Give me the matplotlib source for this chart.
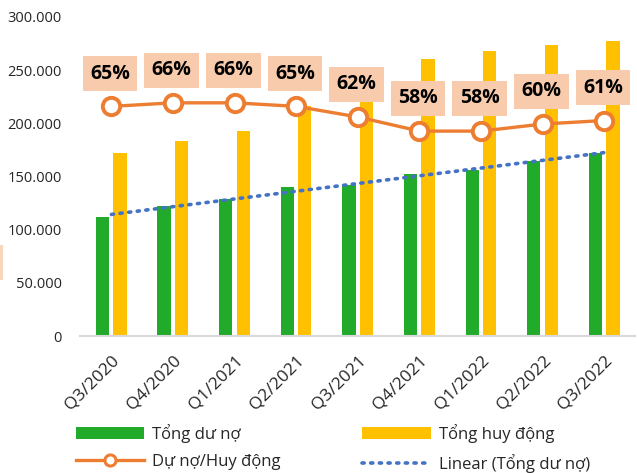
import numpy as np
import matplotlib.pyplot as plt
from matplotlib.patches import Rectangle
from matplotlib.lines import Line2D

plt.rcParams['font.family'] = ['Open Sans', 'DejaVu Sans']

# Data
quarters = ['Q3/2020', 'Q4/2020', 'Q1/2021', 'Q2/2021', 'Q3/2021',
            'Q4/2021', 'Q1/2022', 'Q2/2022', 'Q3/2022']
tong_du_no = [111900, 122300, 128500, 140400, 142000, 152300, 156500, 164700, 172100]
tong_huy_dong = [172100, 183400, 193000, 216300, 229000, 260500, 268300, 273600, 277400]
ty_le = [65, 66, 66, 65, 62, 58, 58, 60, 61]

GREEN = '#22AA2B'
YELLOW = '#FFC000'
ORANGE = '#ED7D31'
BLUE = '#4472C4'
PEACH = '#F8CBAD'

fig = plt.figure(figsize=(6.37, 4.73), dpi=100)
ax = fig.add_axes([0.1256, 0.2896, 0.8714, 0.6745])

x = np.arange(len(quarters))
w = 0.215
bars_g = ax.bar(x - 0.145, tong_du_no, w, color=GREEN, label='Tổng dư nợ')
bars_y = ax.bar(x + 0.14, tong_huy_dong, w, color=YELLOW, label='Tổng huy động')

# linear trendline of Tổng dư nợ
k, b = np.polyfit(x, tong_du_no, 1)
trend, = ax.plot(x, k * x + b, color=BLUE, linestyle=(0, (0.6, 1.8)), linewidth=2.6,
                 dash_capstyle='round', label='Linear (Tổng dư nợ)')

ax.set_xlim(-0.51, 8.5)
ax.set_ylim(0, 300000)
ax.set_yticks(np.arange(0, 300001, 50000))
ax.set_yticklabels(['0' if v == 0 else f'{v:,}'.replace(',', '.') for v in range(0, 300001, 50000)],
                   fontsize=10.5, color='#262626')
ax.set_xticks(x)
ax.set_xticklabels(quarters, rotation=45, ha='right', rotation_mode='anchor',
                   fontsize=12.5, color='#262626')
ax.tick_params(axis='x', length=0, pad=12)
ax.tick_params(axis='y', length=0, pad=13)
for s in ['top', 'right', 'left']:
    ax.spines[s].set_visible(False)
ax.spines['bottom'].set_color('#D9D9D9')
ax.spines['bottom'].set_linewidth(1.5)

# ratio on hidden secondary axis
ax2 = ax.twinx()
ax2.set_ylim(0, 90.3)
ax2.axis('off')
ax2.plot(x, ty_le, color=ORANGE, linewidth=2.4, marker='o', markersize=12.5,
         markerfacecolor='white', markeredgecolor=ORANGE, markeredgewidth=2.8, zorder=3)
for xi, r in zip(x, ty_le):
    ax2.annotate(f'{r}%', (xi, r), xytext=(-1, 23.5), textcoords='offset points',
                 ha='center', va='center', fontsize=14, fontweight='bold', color='black',
                 bbox=dict(boxstyle='square,pad=0.38', fc=PEACH, ec='none'), zorder=4)

ratio_handle = Line2D([], [], color=ORANGE, linewidth=2.4, marker='o', markersize=8,
                      markerfacecolor='white', markeredgecolor=ORANGE, markeredgewidth=2.2)
fig.legend([bars_g, ratio_handle, bars_y, trend],
           ['Tổng dư nợ', 'Dự nợ/Huy động', 'Tổng huy động', 'Linear (Tổng dư nợ)'],
           ncol=2, loc='lower left', bbox_to_anchor=(0.095, -0.032), frameon=False,
           fontsize=12, handlelength=4.1, handleheight=0.75, columnspacing=4.9,
           handletextpad=0.5, labelspacing=0.7, labelcolor='#262626')

# cropped leftovers at the left edge of the original image
fig.patches.append(Rectangle((0, 1 - 280 / 473), 2.5 / 637, 35 / 473,
                             transform=fig.transFigure, fc=PEACH, ec='none', alpha=0.8))

fig.savefig('out.png', dpi=100)
